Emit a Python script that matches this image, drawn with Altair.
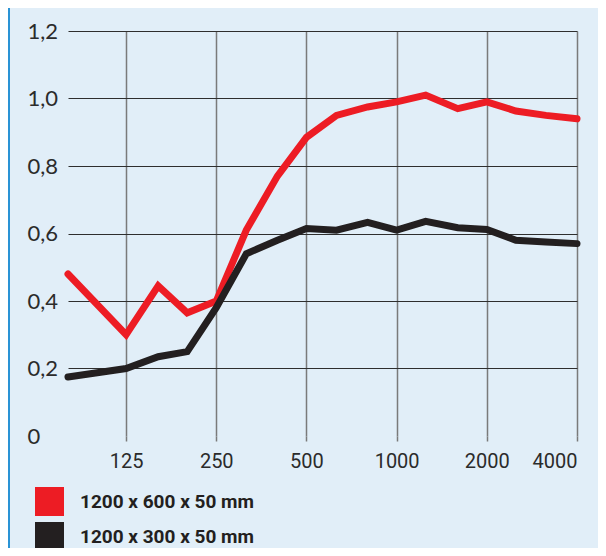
import altair as alt
import pandas as pd

# third-octave band centre frequencies (Hz)
freqs = [80, 125, 160, 200, 250, 315, 400, 500, 630, 800, 1000, 1250, 1600, 2000, 2500, 3150, 4000]
red_vals = [0.48, 0.30, 0.445, 0.365, 0.40, 0.61, 0.77, 0.885, 0.95, 0.975, 0.99, 1.01, 0.97, 0.99, 0.963, 0.95, 0.94]
black_vals = [0.175, 0.20, 0.235, 0.25, 0.38, 0.54, 0.58, 0.615, 0.61, 0.633, 0.61, 0.636, 0.617, 0.612, 0.58, 0.575, 0.57]
series_names = ["1200 x 600 x 50 mm", "1200 x 300 x 50 mm"]
series_colors = ["#ed1c24", "#231f20"]
x_ticks = [125, 250, 500, 1000, 2000, 4000]
y_ticks = [0, 0.2, 0.4, 0.6, 0.8, 1.0, 1.2]

rows = []
for f, v in zip(freqs, red_vals):
    rows.append({"freq": f, "value": v, "series": series_names[0]})
for f, v in zip(freqs, black_vals):
    rows.append({"freq": f, "value": v, "series": series_names[1]})
df = pd.DataFrame(rows)

color_scale = alt.Scale(domain=series_names, range=series_colors)

x_enc = alt.X(
    "freq:Q",
    scale=alt.Scale(type="log", domain=[80, 4000], nice=False),
    axis=alt.Axis(
        values=x_ticks, format="d", title=None, domain=False,
        grid=True, gridColor="#7a7a7a", gridWidth=1.5,
        ticks=True, tickSize=5, tickColor="#7a7a7a", tickWidth=1.5,
        labelFont="Roboto", labelFontSize=20, labelColor="#2b2b2b",
        labelPadding=10, labelBaseline="top",
    ),
)
y_enc = alt.Y(
    "value:Q",
    scale=alt.Scale(domain=[0, 1.2], nice=False),
    axis=alt.Axis(
        values=y_ticks, title=None, domain=False, ticks=False,
        grid=True, gridColor="#2e2e2e", gridWidth=1.2,
        gridOpacity=alt.condition("datum.value == 0", alt.value(0), alt.value(1)),
        labelExpr="datum.value == 0 ? '0' : replace(format(datum.value, '.1f'), '.', ',')",
        labelFont="Lato, Open Sans, sans-serif", labelFontSize=22,
        labelColor="#2b2b2b", labelAlign="left", labelBaseline="middle",
        labelPadding=41,
    ),
)

lines = alt.Chart(df).mark_line(strokeWidth=7, strokeCap="round").encode(
    x=x_enc,
    y=y_enc,
    color=alt.Color("series:N", scale=color_scale, legend=None),
)

legend_layer = alt.Chart(df).transform_filter("false").mark_square(size=841, filled=True, opacity=1).encode(
    x=alt.X("freq:Q"),
    y=alt.Y("value:Q"),
    fill=alt.Fill(
        "series:N",
        scale=color_scale,
        legend=alt.Legend(
            orient="none", legendX=-33, legendY=456, title=None,
            symbolType="square", symbolSize=841, symbolStrokeWidth=0,
            symbolOpacity=1,
            labelFont="Roboto", labelFontSize=19, labelFontWeight="bold",
            labelColor="#231f20", labelOffset=16, rowPadding=6, padding=0,
            labelLimit=400,
        ),
    ),
)

border = alt.Chart(pd.DataFrame({"a": [0]})).mark_rule(color="#2a93d5", strokeWidth=2).encode(
    x=alt.value(-59), y=alt.value(-23), y2=alt.value(517)
)

chart = alt.layer(border, lines, legend_layer).resolve_scale(
    color="independent", fill="independent"
).properties(
    width=509, height=405,
    autosize=alt.AutoSizeParams(type="none"),
    padding={"left": 60, "top": 23, "right": 21, "bottom": 112},
    background="#e1eef8",
).configure_view(strokeWidth=0)

chart.save("out.html", embed_options={"renderer": "svg", "actions": False})
